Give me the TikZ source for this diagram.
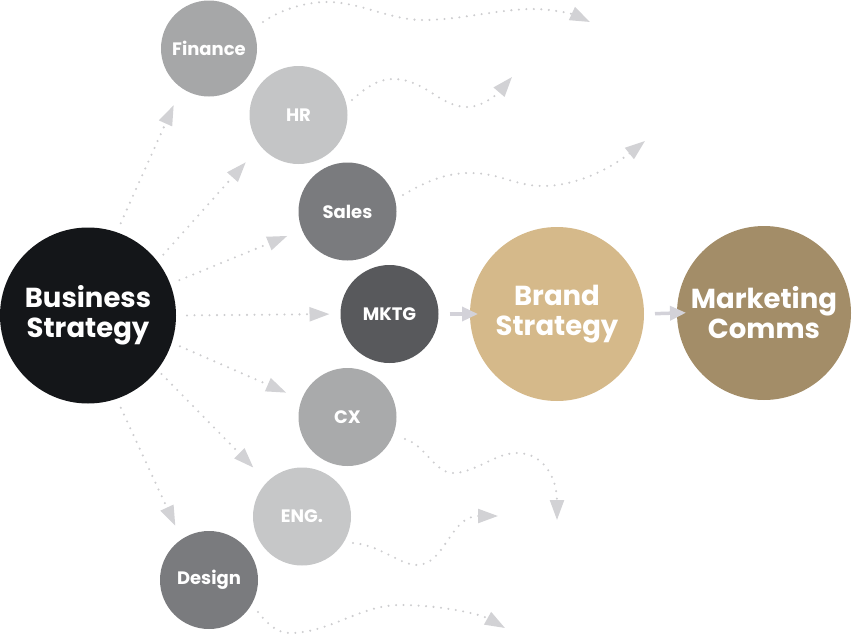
\documentclass[tikz,border=0pt]{standalone}
\usepackage{fontspec}
\setmainfont{Poppins}
\usetikzlibrary{arrows.meta}
\definecolor{cBS}{HTML}{141619}
\definecolor{cFin}{HTML}{A6A7A8}
\definecolor{cHR}{HTML}{C4C5C6}
\definecolor{cSales}{HTML}{7A7B7E}
\definecolor{cMK}{HTML}{58595C}
\definecolor{cCX}{HTML}{A9AAAB}
\definecolor{cENG}{HTML}{C6C7C8}
\definecolor{cDes}{HTML}{7A7B7E}
\definecolor{cBrand}{HTML}{D5B98A}
\definecolor{cComms}{HTML}{A38D68}
\definecolor{cDot}{HTML}{CDCDCF}
\definecolor{cHead}{HTML}{D2D2D5}
\definecolor{cSolid}{HTML}{D3D2D9}
\tikzset{
  bigc/.style={circle, inner sep=0pt, outer sep=0pt, minimum size=174pt, text=white,
    font=\fontsize{27.5}{30}\selectfont\bfseries, align=center},
  smallc/.style={circle, inner sep=0pt, outer sep=0pt, minimum size=98pt, text=white,
    font=\fontsize{18}{20}\selectfont\bfseries},
  dotarrow/.style={draw=cDot, line width=2.3pt, line cap=round, dash pattern=on 0pt off 7.5pt,
    -{Triangle[length=20pt,width=14pt,color=cHead]}},
  solidarrow/.style={draw=cSolid, line width=3.5pt,
    -{Triangle[length=16pt,width=14pt,color=cSolid]}}
}
\begin{document}
\begin{tikzpicture}[x=1pt,y=-1pt]
\useasboundingbox (0,0) rectangle (852,635);
% nodes
\node[bigc, fill=cBS, minimum size=176pt] (bs) at (88,315.5) {Business\\Strategy};
\node[smallc, fill=cFin, minimum size=96pt] (fin) at (209,48.5) {Finance};
\node[smallc, fill=cHR] (hr) at (298.5,115) {HR};
\node[smallc, fill=cSales] (sales) at (347.5,211.5) {Sales};
\node[smallc, fill=cMK] (mk) at (389.5,314) {MKTG};
\node[smallc, fill=cCX] (cx) at (347.5,417) {CX};
\node[smallc, fill=cENG] (eng) at (302,516.5) {ENG.};
\node[smallc, fill=cDes] (des) at (209,580) {Design};
\node[bigc, fill=cBrand] (brand) at (557,314) {Brand\\Strategy};
\node[bigc, fill=cComms] (comms) at (764,313) {Marketing\\Comms};
% free ends of the wavy connectors
\coordinate (tFin) at (590,22);
\coordinate (tHR) at (512,77);
\coordinate (tSales) at (645,141);
\coordinate (tCX) at (557,520);
\coordinate (tENG) at (498,516);
\coordinate (tDes) at (505,628);
% straight dotted arrows
\draw[dotarrow, shorten <=10pt, shorten >=19pt] (bs.71) -- (fin.235);
\draw[dotarrow, shorten <=9pt, shorten >=22pt] (bs.38) -- (hr.219);
\draw[dotarrow, shorten <=10pt, shorten >=16pt] (bs.21) -- (sales.202);
\draw[dotarrow, shorten <=11pt, shorten >=11pt] (bs.east) -- (mk.west);
\draw[dotarrow, shorten <=9pt, shorten >=17pt] (bs.-18) -- (cx.159);
\draw[dotarrow, shorten <=6pt, shorten >=20pt] (bs.-38) -- (eng.135);
\draw[dotarrow, shorten <=10pt, shorten >=15pt] (bs.-71) -- (des.124);
% wavy dotted arrows
\draw[dotarrow] ([shift={(54,-26.5)}]fin.center)
  .. controls (280,10) and (305,2) .. (327,2)
  .. controls (360,2) and (390,20) .. (423,20)
  .. controls (460,20) and (500,9) .. (533,9)
  .. controls (555,9) and (575,15) .. (tFin);
\draw[dotarrow] ([shift={(53.5,-15)}]hr.center)
  .. controls (365,88) and (378,79) .. (393,79)
  .. controls (425,79) and (440,107) .. (467,107)
  .. controls (485,107) and (500,91) .. (tHR);
\draw[dotarrow] ([shift={(55.5,-16.5)}]sales.center)
  .. controls (425,182) and (445,173) .. (470,173)
  .. controls (500,173) and (515,186) .. (543,186)
  .. controls (580,186) and (615,165) .. (tSales);
\draw[dotarrow] ([shift={(57.5,22)}]cx.center)
  .. controls (425,445) and (435,473) .. (453,473)
  .. controls (475,473) and (495,453) .. (517,453)
  .. controls (545,453) and (557,480) .. (tCX);
\draw[dotarrow] ([shift={(51,26.5)}]eng.center)
  .. controls (380,545) and (400,565) .. (417,565)
  .. controls (445,565) and (450,516) .. (tENG);
\draw[dotarrow] ([shift={(49,32)}]des.center)
  .. controls (268,625) and (278,633) .. (290,633)
  .. controls (330,633) and (360,605) .. (400,605)
  .. controls (440,605) and (480,614) .. (tDes);
% solid arrows
\draw[solidarrow, shorten <=11pt, shorten >=-8pt] (mk.east) -- (brand.west);
\draw[solidarrow, shorten <=11pt, shorten >=-9pt] (brand.east) -- (comms.west);
\end{tikzpicture}
\end{document}
